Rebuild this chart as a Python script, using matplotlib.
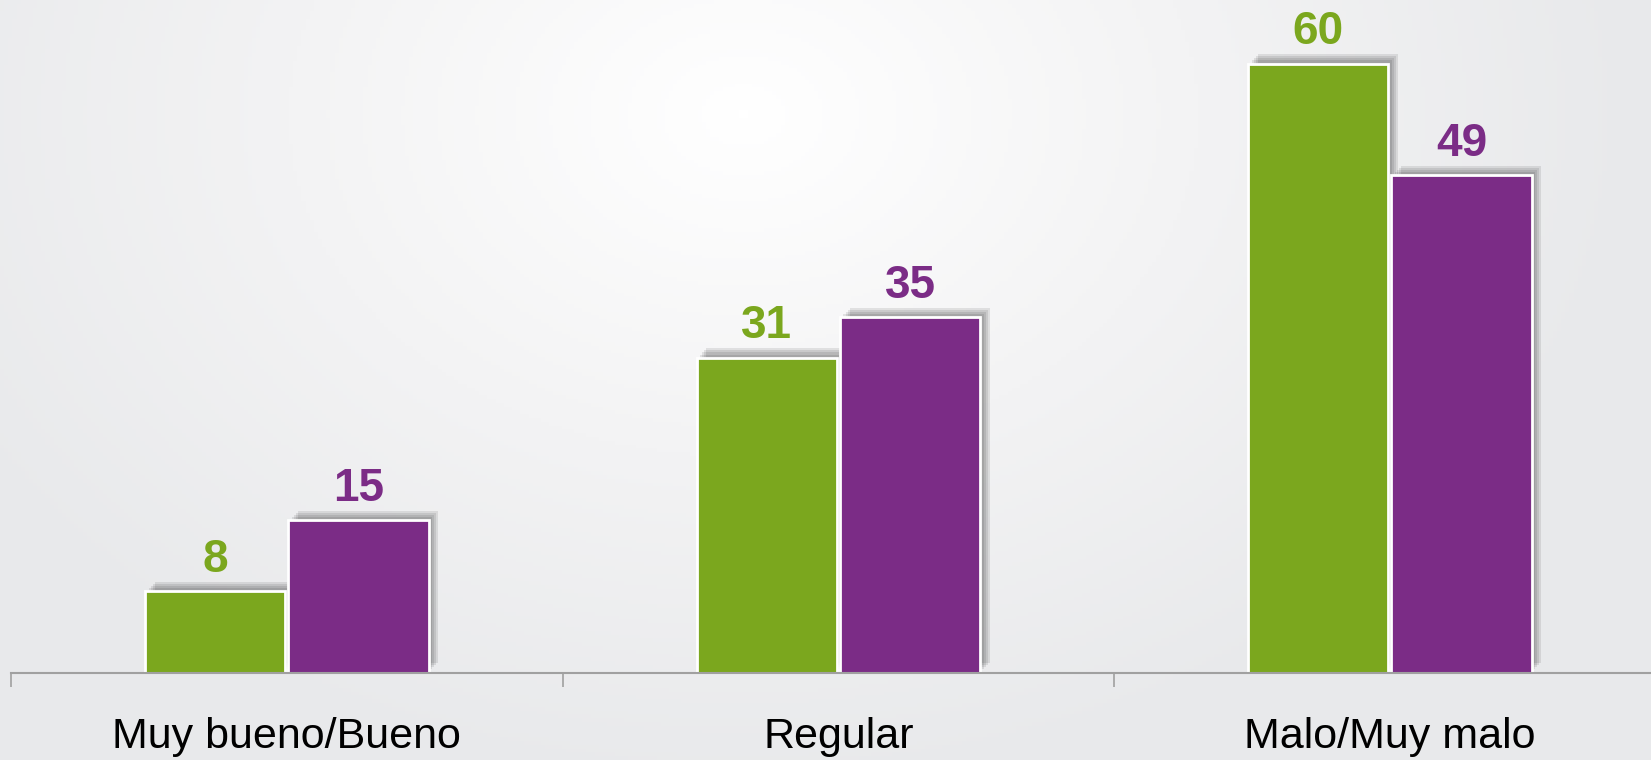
import numpy as np
import matplotlib.pyplot as plt
import matplotlib.patheffects as pe
from matplotlib.colors import LinearSegmentedColormap

plt.rcParams['font.family'] = ['Liberation Sans', 'DejaVu Sans']

categories = ['Muy bueno/Bueno', 'Regular', 'Malo/Muy malo']
serie_verde = [8, 31, 60]
serie_morada = [15, 35, 49]

verde = '#7ba71e'
morado = '#7b2c86'

fig = plt.figure(figsize=(16.51, 7.6), dpi=100)

# radial background, white near the top middle, light grey at the edges
bg = fig.add_axes([0, 0, 1, 1], zorder=-10)
gx, gy = np.meshgrid(np.linspace(0, 1, 400), np.linspace(0, 1, 200))
r = np.sqrt(((gx - 0.45) / 0.55) ** 2 + ((gy - 0.85) / 0.9) ** 2)
r = np.clip(r, 0, 1)
cmap = LinearSegmentedColormap.from_list('bg', ['#ffffff', '#f3f3f4', '#e8e9eb'])
bg.imshow(r, cmap=cmap, origin='lower', extent=[0, 1, 0, 1], aspect='auto')
bg.axis('off')

ax = fig.add_axes([0.0067, 0.1151, 1.0021, 0.8638])
ax.patch.set_alpha(0)

x = np.arange(len(categories))
w = 0.254
off = 0.13

shadow = [pe.SimplePatchShadow(offset=(d, d), shadow_rgbFace='k', alpha=0.09) for d in (7, 5.5, 4, 2.5)]
shadow.append(pe.Normal())

b1 = ax.bar(x - off, serie_verde, w, color=verde, edgecolor='white', linewidth=2)
b2 = ax.bar(x + off, serie_morada, w, color=morado, edgecolor='white', linewidth=2)
for b in list(b1) + list(b2):
    b.set_path_effects(shadow)

for xi, v in zip(x - off, serie_verde):
    ax.annotate(str(v), (xi, v), xytext=(0, 7), textcoords='offset points',
                ha='center', va='bottom', fontsize=33, fontweight='bold', color=verde)
for xi, v in zip(x + off, serie_morada):
    ax.annotate(str(v), (xi, v), xytext=(0, 7), textcoords='offset points',
                ha='center', va='bottom', fontsize=33, fontweight='bold', color=morado)

ax.set_xlim(-0.5, 2.5)
ax.set_ylim(0, 64.7)
ax.set_yticks([])
ax.set_xticks(x)
ax.set_xticklabels(categories, fontsize=31)
ax.set_xticks([-0.5, 0.5, 1.5, 2.5], minor=True)
ax.tick_params(axis='x', which='major', length=0, pad=32)
ax.tick_params(axis='x', which='minor', length=10, width=1.2, color='#a0a0a0')
for s in ['top', 'right', 'left']:
    ax.spines[s].set_visible(False)
ax.spines['bottom'].set_color('#a0a0a0')
ax.spines['bottom'].set_linewidth(1.5)

fig.savefig('out.png', dpi=100)
